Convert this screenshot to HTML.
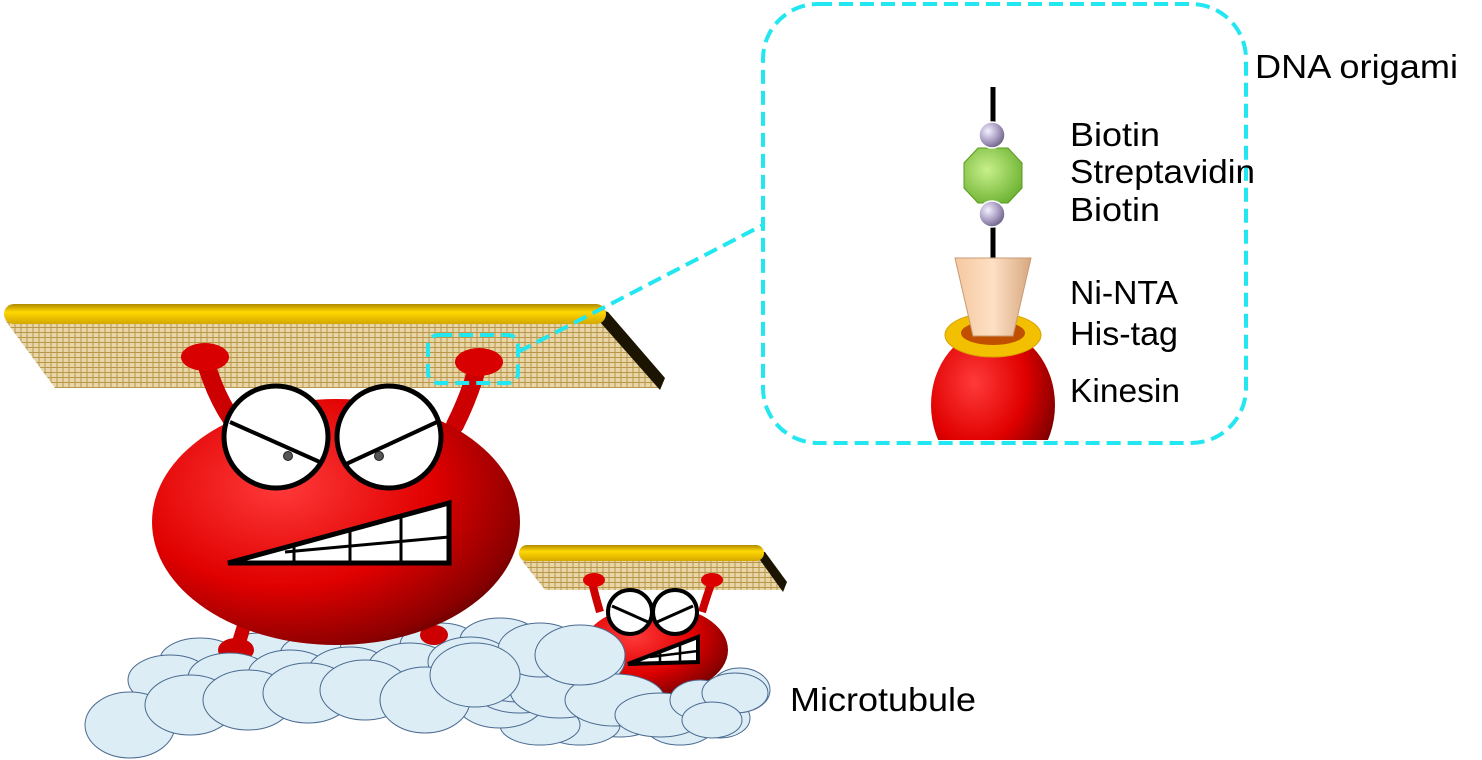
<!DOCTYPE html>
<html><head><meta charset="utf-8"><style>html,body{margin:0;padding:0;background:#fff}svg{display:block}text{font-family:"Liberation Sans",sans-serif;font-size:33px;fill:#000}</style></head>
<body>
<svg width="1482" height="760" viewBox="0 0 1482 760" xmlns="http://www.w3.org/2000/svg">
<defs>
<radialGradient id="red" cx="0.35" cy="0.35" r="0.75"><stop offset="0" stop-color="#ff3a3a"/><stop offset="0.55" stop-color="#e00000"/><stop offset="0.9" stop-color="#8a0000"/><stop offset="1" stop-color="#5a0000"/></radialGradient>
<linearGradient id="gold" x1="0" y1="0" x2="0" y2="1"><stop offset="0" stop-color="#b08a00"/><stop offset="0.4" stop-color="#ffd800"/><stop offset="1" stop-color="#d4a800"/></linearGradient>
<pattern id="mesh" width="6" height="5" patternUnits="userSpaceOnUse"><rect width="6" height="5" fill="#e8d6a8"/><path d="M0 2.5H6M3 0V5" stroke="#b8964a" stroke-width="1"/></pattern>
<radialGradient id="ball" cx="0.35" cy="0.35" r="0.7"><stop offset="0" stop-color="#f4f0ff"/><stop offset="0.6" stop-color="#a69ac0"/><stop offset="1" stop-color="#6a6080"/></radialGradient>
<radialGradient id="grn" cx="0.4" cy="0.4" r="0.7"><stop offset="0" stop-color="#c8f08a"/><stop offset="1" stop-color="#6ab030"/></radialGradient>
<linearGradient id="peach" x1="0" y1="0" x2="1" y2="0"><stop offset="0" stop-color="#f5c8a0"/><stop offset="0.5" stop-color="#fde0c4"/><stop offset="1" stop-color="#d8a880"/></linearGradient>
<clipPath id="kc"><rect x="900" y="300" width="200" height="140"/></clipPath>
</defs>

<!-- big plate -->
<polygon points="5,320 600,320 660,388 55,388" fill="url(#mesh)"/>
<polygon points="595,308 608,312 665,378 660,390 600,322" fill="#1a1400"/>
<rect x="4" y="304" width="602" height="20" rx="10" fill="url(#gold)"/>

<!-- microtubule back -->
<g fill="#dcedf5" stroke="#4a6a90" stroke-width="1">
<ellipse cx="640" cy="690" rx="40" ry="22"/><ellipse cx="700" cy="705" rx="38" ry="22"/><ellipse cx="740" cy="690" rx="30" ry="22"/><ellipse cx="720" cy="718" rx="30" ry="20"/><ellipse cx="680" cy="725" rx="35" ry="20"/>
<ellipse cx="600" cy="700" rx="45" ry="25"/><ellipse cx="560" cy="710" rx="45" ry="25"/><ellipse cx="620" cy="715" rx="40" ry="22"/><ellipse cx="580" cy="725" rx="40" ry="20"/><ellipse cx="540" cy="725" rx="40" ry="20"/>
<ellipse cx="500" cy="700" rx="45" ry="28"/><ellipse cx="520" cy="685" rx="50" ry="28"/><ellipse cx="560" cy="680" rx="55" ry="30"/>
<ellipse cx="200" cy="660" rx="40" ry="22"/><ellipse cx="260" cy="655" rx="40" ry="22"/><ellipse cx="320" cy="655" rx="40" ry="22"/><ellipse cx="380" cy="650" rx="40" ry="22"/><ellipse cx="440" cy="645" rx="40" ry="22"/><ellipse cx="500" cy="640" rx="40" ry="22"/>
</g>

<!-- small plate -->
<polygon points="520,558 760,558 785,590 545,590" fill="url(#mesh)"/>
<polygon points="756,550 765,552 787,582 783,592 760,560" fill="#1a1400"/>
<rect x="519" y="545" width="245" height="16" rx="8" fill="url(#gold)"/>

<!-- small creature -->
<g>
<path d="M600,612 Q595,595 592,582" stroke="#c00" stroke-width="8" fill="none"/><ellipse cx="594" cy="580" rx="11" ry="7" fill="#d00"/>
<path d="M702,612 Q707,595 712,582" stroke="#c00" stroke-width="8" fill="none"/><ellipse cx="712" cy="580" rx="11" ry="7" fill="#d00"/>
<ellipse cx="655" cy="650" rx="73" ry="45" fill="url(#red)"/>
<circle cx="630" cy="612" r="22" fill="#fff" stroke="#000" stroke-width="4"/><circle cx="675" cy="612" r="22" fill="#fff" stroke="#000" stroke-width="4"/>
<path d="M612,606 L648,622 M693,606 L657,622" stroke="#000" stroke-width="3"/>
<polygon points="628,664 698,637 698,662" fill="#fff" stroke="#000" stroke-width="4"/>
<path d="M660,652 V663 M680,644 V663 M650,657 L698,651" stroke="#000" stroke-width="2.5"/>
</g>
<g fill="#dcedf5" stroke="#4a6a90" stroke-width="1">
<ellipse cx="520" cy="672" rx="60" ry="30"/><ellipse cx="580" cy="660" rx="45" ry="28"/><ellipse cx="560" cy="690" rx="50" ry="28"/><ellipse cx="615" cy="700" rx="50" ry="26"/><ellipse cx="660" cy="715" rx="45" ry="22"/><ellipse cx="700" cy="700" rx="30" ry="20"/><ellipse cx="735" cy="693" rx="33" ry="20"/><ellipse cx="712" cy="720" rx="30" ry="18"/>
</g>

<!-- big creature -->
<g>
<path d="M232,420 Q215,395 205,360" stroke="#c00" stroke-width="18" fill="none" stroke-linecap="round"/>
<ellipse cx="205" cy="357" rx="24" ry="14" fill="#d80000"/>
<path d="M455,425 Q470,395 478,365" stroke="#c00" stroke-width="18" fill="none" stroke-linecap="round"/>
<ellipse cx="479" cy="362" rx="24" ry="14" fill="#d80000"/>
<path d="M250,600 Q245,625 238,645" stroke="#c00" stroke-width="14" fill="none"/><ellipse cx="236" cy="650" rx="18" ry="12" fill="#c00"/>
<ellipse cx="434" cy="635" rx="14" ry="10" fill="#c00"/>
<ellipse cx="336" cy="522" rx="184" ry="123" fill="url(#red)"/>
<ellipse cx="276" cy="437" rx="52" ry="51" fill="#fff" stroke="#000" stroke-width="5"/>
<ellipse cx="389" cy="437" rx="52" ry="51" fill="#fff" stroke="#000" stroke-width="5"/>
<path d="M230,422 L322,463 M437,422 L344,465" stroke="#000" stroke-width="4"/>
<circle cx="288" cy="456" r="4.5" fill="#555" stroke="#222"/><circle cx="379" cy="456" r="4.5" fill="#555" stroke="#222"/>
<polygon points="228,563 449,503 449,563" fill="#fff" stroke="#000" stroke-width="5"/>
<path d="M294,545 V563 M350,530 V563 M401,516 V563 M285,552 L449,537" stroke="#000" stroke-width="3"/>
</g>

<!-- microtubule front -->
<g fill="#dcedf5" stroke="#4a6a90" stroke-width="1">
<ellipse cx="170" cy="680" rx="42" ry="25"/><ellipse cx="230" cy="678" rx="42" ry="25"/><ellipse cx="290" cy="675" rx="42" ry="25"/><ellipse cx="350" cy="672" rx="42" ry="25"/><ellipse cx="410" cy="668" rx="42" ry="25"/><ellipse cx="470" cy="662" rx="42" ry="25"/>
<ellipse cx="540" cy="650" rx="42" ry="27"/><ellipse cx="580" cy="655" rx="45" ry="30"/>
<ellipse cx="130" cy="725" rx="45" ry="33"/><ellipse cx="190" cy="705" rx="45" ry="30"/><ellipse cx="248" cy="700" rx="45" ry="30"/><ellipse cx="308" cy="693" rx="45" ry="30"/><ellipse cx="365" cy="690" rx="45" ry="30"/>
<ellipse cx="425" cy="700" rx="45" ry="33"/><ellipse cx="475" cy="675" rx="45" ry="32"/>
</g>

<!-- callout -->
<rect x="428" y="335" width="90" height="48" rx="10" fill="none" stroke="#22e6f0" stroke-width="4" stroke-dasharray="14 7"/>
<line x1="518" y1="352" x2="763" y2="225" stroke="#22e6f0" stroke-width="4" stroke-dasharray="14 7"/>
<rect x="763" y="4" width="483" height="439" rx="55" fill="#fff" stroke="#22e6f0" stroke-width="4" stroke-dasharray="14 7"/>

<!-- inset -->
<line x1="993" y1="87" x2="993" y2="262" stroke="#000" stroke-width="5"/>
<polygon points="978,148 1008,148 1022,163 1022,188 1008,203 978,203 964,188 964,163" fill="url(#grn)" stroke="#5a9a20"/>
<circle cx="992" cy="135" r="13" fill="url(#ball)" stroke="#fff" stroke-width="1.5"/>
<circle cx="992" cy="214" r="13" fill="url(#ball)" stroke="#fff" stroke-width="1.5"/>
<g clip-path="url(#kc)"><ellipse cx="993" cy="405" rx="62" ry="75" fill="url(#red)"/></g>
<ellipse cx="993" cy="335" rx="48" ry="22" fill="#f2c000" stroke="#d8a000"/>
<ellipse cx="993" cy="333" rx="32" ry="12" fill="#c05000"/>
<polygon points="955,258 1031,258 1013,336 973,336" fill="url(#peach)" stroke="#c89a70"/>

<text x="1255" y="78" textLength="203" lengthAdjust="spacingAndGlyphs">DNA origami</text>
<text x="1070" y="146" textLength="90" lengthAdjust="spacingAndGlyphs">Biotin</text>
<text x="1070" y="183" textLength="185" lengthAdjust="spacingAndGlyphs">Streptavidin</text>
<text x="1070" y="221" textLength="90" lengthAdjust="spacingAndGlyphs">Biotin</text>
<text x="1070" y="304" textLength="108" lengthAdjust="spacingAndGlyphs">Ni-NTA</text>
<text x="1070" y="345" textLength="108" lengthAdjust="spacingAndGlyphs">His-tag</text>
<text x="1070" y="402" textLength="110" lengthAdjust="spacingAndGlyphs">Kinesin</text>
<text x="790" y="711" textLength="186" lengthAdjust="spacingAndGlyphs">Microtubule</text>
</svg>
</body></html>
